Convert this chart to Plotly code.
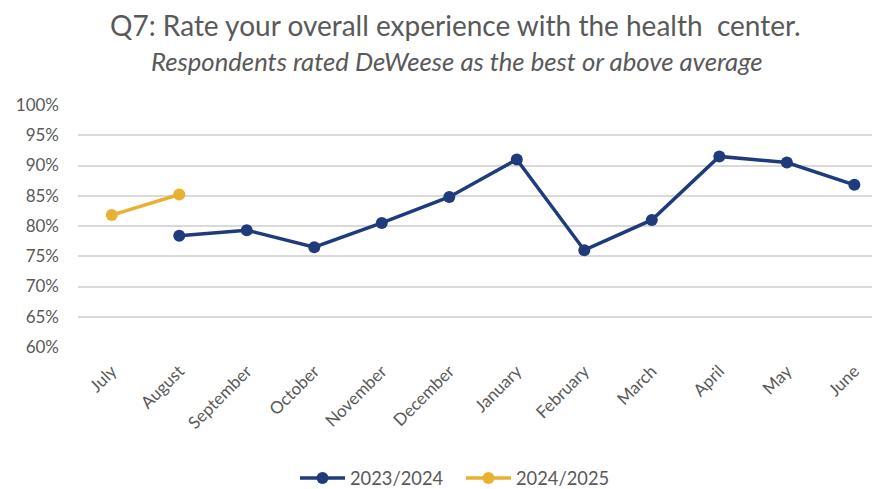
import plotly.graph_objects as go

months = ["July", "August", "September", "October", "November", "December",
          "January", "February", "March", "April", "May", "June"]
s2324 = [None, 0.784, 0.793, 0.765, 0.805, 0.848, 0.910, 0.760, 0.810, 0.915, 0.905, 0.868]
s2425 = [0.818, 0.852, None, None, None, None, None, None, None, None, None, None]
tick_vals = [0.60, 0.65, 0.70, 0.75, 0.80, 0.85, 0.90, 0.95, 1.00]
tick_text = ["60%", "65%", "70%", "75%", "80%", "85%", "90%", "95%", "100%"]

navy = "#1F3B7C"
gold = "#E8B132"
gray = "#595959"
font = "Lato"

# page body has an 8px margin; figure coordinates = page coordinates - 8
OFF = 8
W, H = 880 - OFF, 489 - OFF
ML, MR = 78 - OFF, 0
MT = 105 - OFF
MB = H - (347 - OFF)

fig = go.Figure()
fig.add_trace(go.Scatter(x=list(range(12)), y=s2324, name="2023/2024", mode="lines+markers",
                         line=dict(color=navy, width=3.5), marker=dict(size=12, color=navy),
                         connectgaps=False))
fig.add_trace(go.Scatter(x=list(range(12)), y=s2425, name="2024/2025", mode="lines+markers",
                         line=dict(color=gold, width=3.5), marker=dict(size=12, color=gold),
                         connectgaps=False))

pw = W - ML - MR
ph = H - MT - MB


def ax(page_x):
    return (page_x - OFF - ML) / pw


def ay(page_y):
    return 1 + (MT - (page_y - OFF)) / ph


fig.update_layout(
    width=W, height=H,
    margin=dict(l=ML, r=MR, t=MT, b=MB, autoexpand=False),
    paper_bgcolor="white", plot_bgcolor="white",
    font=dict(family=font, color=gray),
    showlegend=True,
    legend=dict(orientation="h", x=(461 - OFF) / W, xanchor="center",
                y=(H - (478 - OFF)) / H, yanchor="middle",
                yref="container", xref="container",
                itemwidth=45, entrywidth=106, entrywidthmode="pixels",
                font=dict(size=18.3, color=gray)),
    annotations=[
        dict(text="Q7: Rate your overall experience with the health  center.", x=ax(455), y=ay(25.5),
             xref="paper", yref="paper", showarrow=False, xanchor="center", yanchor="middle",
             font=dict(size=28, color=gray)),
        dict(text="<i>Respondents rated DeWeese as the best or above average</i>", x=ax(457), y=ay(61),
             xref="paper", yref="paper", showarrow=False, xanchor="center", yanchor="middle",
             font=dict(size=25.7, color=gray)),
    ],
)

fig.update_xaxes(
    range=[-0.5, 11.38], tickvals=list(range(12)), ticktext=months, tickangle=-45,
    tickfont=dict(size=17, color=gray), showgrid=False, zeroline=False, showline=False,
    ticks="", automargin=False, ticklabelshift=0, ticklabelstandoff=10,
)
fig.update_yaxes(
    range=[0.60, 1.00], tickvals=tick_vals, ticktext=tick_text,
    tickfont=dict(size=17, color=gray), showgrid=True, gridcolor="#D9D9D9", gridwidth=1.5,
    zeroline=False, showline=False, ticks="", ticklabelstandoff=18, automargin=False,
)

fig.write_html("out.html")
